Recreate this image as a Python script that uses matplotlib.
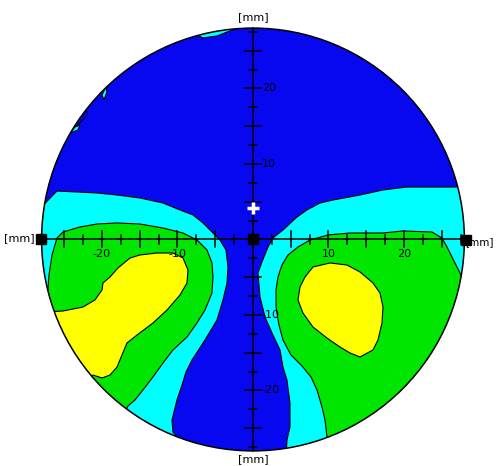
import numpy as np
import matplotlib
matplotlib.use("Agg")
import matplotlib.pyplot as plt
from matplotlib.patches import Circle, Polygon

# field radius [mm]
R = 28.0

# contour regions, (x, y) in mm
cyan_left = [(-29.5, 2.8), (-25.96, 6.42), (-20.66, 6.16), (-18.01, 5.89), (-14.97, 5.50),
             (-11.92, 4.83), (-9.67, 3.91), (-7.95, 3.25), (-6.62, 2.19), (-5.43, 0.99),
             (-4.37, -0.07), (-3.58, -1.39), (-3.31, -3.64), (-3.44, -5.76), (-3.97, -8.01),
             (-4.77, -10.66), (-6.36, -13.31), (-8.08, -15.96), (-8.87, -17.55), (-9.40, -19.27),
             (-10.07, -21.26), (-10.73, -23.91), (-10.60, -25.50), (-9.67, -26.56), (-9.3, -30),
             (-31, -30), (-31, 2.8)]
cyan_right = [(29.5, 7.0), (26.49, 6.95), (24.37, 6.95), (20.40, 6.95), (17.22, 6.56),
              (14.17, 5.89), (10.60, 5.23), (8.87, 4.83), (7.15, 3.91), (5.83, 2.98),
              (3.97, 1.26), (2.65, 0.2), (1.99, -0.99), (1.19, -2.98), (0.66, -4.44),
              (0.93, -7.62), (1.59, -10.26), (2.52, -12.38), (3.58, -14.64), (3.97, -16.89),
              (4.50, -18.61), (4.90, -21.66), (4.90, -24.83), (4.50, -26.56), (4.3, -30),
              (31, -30), (31, 7.0)]
green_left = [(-29, -9), (-27.28, -8.01), (-27.02, -4.70), (-26.62, -2.05), (-25.96, 0.2),
              (-25.17, 0.99), (-22.91, 1.66), (-20.66, 2.05), (-18.01, 2.19), (-14.97, 2.05),
              (-11.92, 1.52), (-9.27, 0.86), (-7.42, -0.07), (-6.09, -1.39), (-5.43, -3.11),
              (-5.30, -4.97), (-5.43, -7.09), (-6.36, -9.34), (-7.42, -11.06), (-8.74, -12.91),
              (-10.60, -14.64), (-11.92, -16.36), (-13.25, -18.21), (-14.57, -19.93),
              (-15.63, -21.26), (-16.56, -22.05), (-17.5, -24), (-31, -24), (-31, -9)]
green_right = [(31, -5.5), (27.81, -5.36), (27.42, -4.44), (27.02, -3.64), (26.36, -2.32),
               (25.70, -0.99), (25.03, 0.2), (23.71, 0.99), (19.87, 1.13), (17.22, 0.86),
               (12.85, 0.86), (9.93, 0.60), (7.55, -0.07), (5.96, -0.99), (4.64, -2.05),
               (3.84, -3.38), (3.31, -4.97), (3.05, -6.69), (3.05, -8.94), (3.44, -11.32),
               (3.97, -13.31), (5.03, -15.30), (6.49, -16.75), (7.68, -18.21), (8.48, -19.93),
               (9.14, -22.19), (9.54, -23.91), (9.80, -26.16), (9.93, -27.9), (10, -30),
               (31, -30)]
yellow_left = [(-27.5, -9.6), (-25.17, -9.47), (-22.52, -8.94), (-20.93, -8.01), (-20.00, -6.69),
               (-19.87, -5.76), (-18.94, -4.97), (-17.88, -3.77), (-16.29, -2.45), (-14.97, -2.05),
               (-12.72, -1.79), (-10.60, -1.79), (-9.27, -2.45), (-8.61, -4.04), (-8.74, -5.76),
               (-9.67, -7.35), (-11.39, -9.34), (-13.25, -11.06), (-15.36, -12.65),
               (-16.69, -13.71), (-17.35, -15.30), (-18.01, -16.89), (-18.94, -17.95),
               (-20.00, -18.34), (-21.19, -17.95), (-23, -19.5), (-30, -19.5), (-30, -9.6)]
yellow_right = [(7.95, -3.64), (10.20, -3.11), (12.45, -3.38), (14.17, -4.30), (15.89, -5.76),
                (16.82, -7.09), (17.22, -8.94), (17.09, -11.06), (16.56, -13.31), (15.89, -14.64),
                (14.17, -15.56), (12.85, -15.03), (11.52, -14.24), (9.80, -13.05), (7.95, -11.59),
                (6.62, -9.74), (5.96, -8.01), (6.23, -6.29), (6.89, -4.97)]
cyan_spots = [
    [(-7.42, 27.09), (-6.62, 26.69), (-4.77, 26.95), (-3.05, 27.62), (-2.12, 28.01),
     (-3.44, 27.88), (-5.30, 27.62), (-7.02, 27.35)],
    [(-19.47, 20.20), (-19.34, 19.54), (-19.74, 18.48), (-20.0, 19.14)],
    [(-24.24, 14.11), (-23.58, 14.90), (-22.91, 15.17), (-23.18, 14.50)],
]
stray_line = [(-23.18, 15.17), (-21.99, 16.49), (-21.99, 16.95)]

tick_pos = np.arange(-27.5, 27.6, 2.5)
tick_labels = [-20, -10, 10, 20]
center_mark = (0.0, 4.17)

blue, cyan, green, yellow = "#0808f0", "#00ffff", "#00e600", "#ffff00"

fig = plt.figure(figsize=(4.96, 4.66), dpi=100)
ax = fig.add_axes([0, 0, 1, 1])
ax.set_xlim(-33.51, 32.19)
ax.set_ylim(-30.0, 31.72)
ax.axis("off")

clip = Circle((0, 0), R, transform=ax.transData)
ax.add_patch(Circle((0, 0), R, facecolor=blue, edgecolor="none", zorder=1))

def region(pts, color):
    p = Polygon(pts, closed=True, facecolor=color, edgecolor="black", lw=0.8, zorder=2)
    ax.add_patch(p)
    p.set_clip_path(clip)

region(cyan_left, cyan)
region(cyan_right, cyan)
region(green_left, green)
region(green_right, green)
region(yellow_left, yellow)
region(yellow_right, yellow)
for s in cyan_spots:
    region(s, cyan)
ln, = ax.plot(*zip(*stray_line), color="black", lw=0.8, zorder=2)
ln.set_clip_path(clip)

ax.add_patch(Circle((0, 0), R, facecolor="none", edgecolor="black", lw=1.1, zorder=3))

# axes cross
ax.plot([-R, R], [0, 0], color="black", lw=1.1, zorder=4)
ax.plot([0, 0], [-R, R], color="black", lw=1.1, zorder=4)
for t in tick_pos:
    h = 1.06 if abs(t % 5) < 1e-6 else 0.55
    ax.plot([t, t], [-h, h], color="black", lw=1.1, zorder=4)
    ax.plot([-h, h], [t, t], color="black", lw=1.1, zorder=4)
for v in tick_labels:
    ax.text(v, -1.95, str(v), ha="center", va="center", fontsize=8, zorder=5)
    ax.text(1.15, v, str(v), ha="left", va="center", fontsize=8, zorder=5)

ax.text(0, 29.5, "[mm]", ha="center", va="center", fontsize=8)
ax.text(0, -29.1, "[mm]", ha="center", va="center", fontsize=8)
ax.text(-28.9, 0.15, "[mm]", ha="right", va="center", fontsize=8)
ax.text(28.1, -0.3, "[mm]", ha="left", va="center", fontsize=7.5, zorder=4)

ax.plot([-28.1, 0, 28.2], [0.1, 0, -0.1], "s", color="black", ms=7.5, zorder=6, ls="none")
ax.plot(*center_mark, "+", color="white", ms=9, mew=2.5, zorder=6)

fig.savefig("out.png", dpi=100)
